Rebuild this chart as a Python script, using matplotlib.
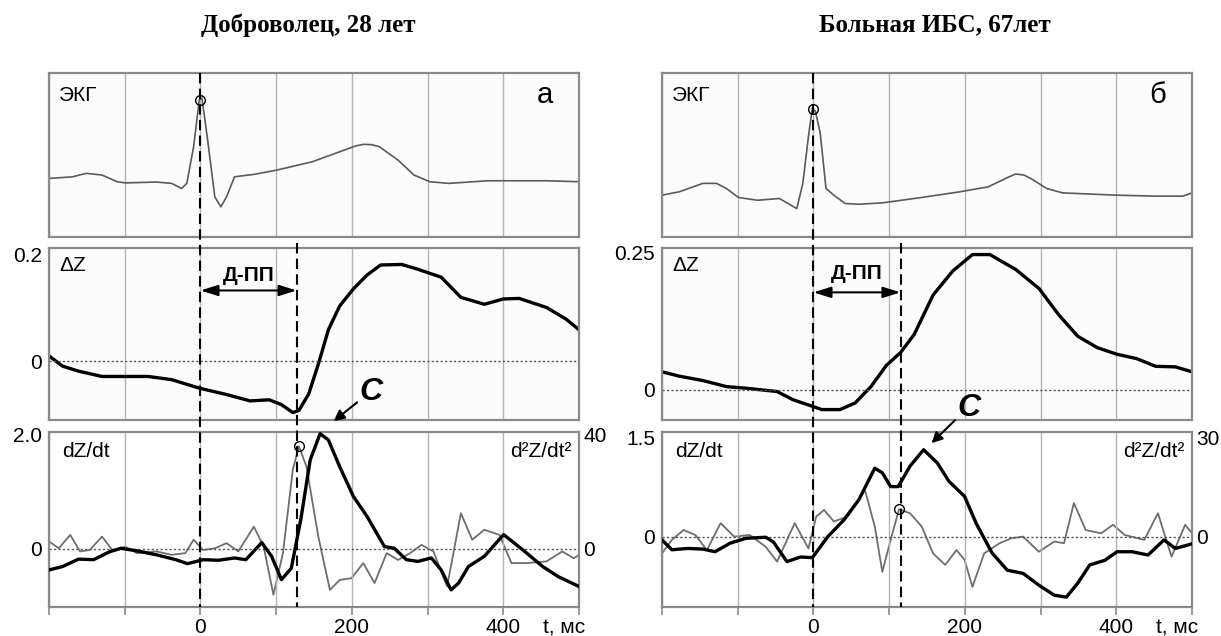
import matplotlib
matplotlib.use('Agg')
import matplotlib.pyplot as plt
from matplotlib.lines import Line2D
from matplotlib.patches import ArrowStyle
import matplotlib.transforms as mtransforms

plt.rcParams['font.family'] = ['Liberation Sans', 'DejaVu Sans']

# ---- data (t in ms) ----
titles = ['Доброволец, 28 лет', 'Больная ИБС, 67лет']
panel_letters = ['а', 'б']

ecg_a_t = [-200, -169, -151, -130, -110, -99, -58, -38, -25, -18, -9, -1.5, 2, 9, 19, 27, 34.5, 45,
           71, 101, 148, 184, 205, 215, 226, 236, 261, 282, 303, 328, 380, 457, 500]
ecg_a_v = [0.357, 0.367, 0.388, 0.378, 0.337, 0.33, 0.335, 0.327, 0.296, 0.327, 0.55, 0.837, 0.847, 0.61,
           0.245, 0.184, 0.245, 0.367, 0.382, 0.408, 0.459, 0.52, 0.555, 0.565, 0.563, 0.551, 0.469,
           0.378, 0.337, 0.327, 0.343, 0.343, 0.337]
ecg_b_t = [-200, -177, -146, -128, -115, -99, -74, -45, -32, -22, -14, -6.6, -1.4, 2.7, 9, 16.6, 27, 42,
           60, 91, 143, 194, 231, 255, 267, 278, 287, 308, 329, 349, 401, 452, 488, 500]
ecg_b_v = [0.255, 0.276, 0.327, 0.327, 0.296, 0.241, 0.224, 0.235, 0.2, 0.173, 0.327, 0.612, 0.786, 0.765,
           0.633, 0.296, 0.255, 0.204, 0.2, 0.208, 0.241, 0.276, 0.306, 0.36, 0.384, 0.378, 0.357, 0.296,
           0.269, 0.265, 0.255, 0.249, 0.249, 0.269]

dz_a_t = [-200, -182, -161, -130, -100, -69, -38, -1.5, 34.5, 65.5, 91, 107, 122, 130, 143, 156, 169,
          184, 202, 220, 238, 266, 287, 318, 344, 375, 400, 421, 457, 483, 500]
dz_a_v = [0.0096, -0.0096, -0.019, -0.029, -0.029, -0.029, -0.035, -0.051, -0.063, -0.075, -0.073,
          -0.082, -0.097, -0.093, -0.062, -0.0045, 0.059, 0.104, 0.136, 0.162, 0.181, 0.182, 0.173,
          0.158, 0.12, 0.107, 0.117, 0.118, 0.101, 0.079, 0.059]
dz_b_t = [-200, -177, -146, -115, -89, -48, -27, -1.4, 11, 35, 55, 76, 96.5, 115, 133, 158, 184, 210,
          233, 267, 298, 324, 349, 375, 401, 427, 452, 478, 500]
dz_b_v = [0.033, 0.025, 0.017, 0.006, 0.003, -0.003, -0.018, -0.03, -0.036, -0.036, -0.024, 0.006,
          0.045, 0.068, 0.101, 0.173, 0.217, 0.247, 0.247, 0.22, 0.185, 0.137, 0.098, 0.077, 0.065,
          0.057, 0.043, 0.042, 0.033]

d1_a_t = [-200, -182, -161, -141, -120, -105, -84, -58, -32.5, -17, 3.6, 24, 45, 60, 81, 94, 107, 120,
          132.5, 145, 158, 169, 184, 202, 220, 243, 256, 272, 287, 305, 318, 331, 341, 354, 375, 400.5,
          426, 452, 473, 500]
d1_a_v = [-0.37, -0.31, -0.18, -0.19, -0.05, 0.01, -0.035, -0.105, -0.19, -0.26, -0.19, -0.2, -0.16,
          -0.19, 0.11, -0.13, -0.54, -0.34, 0.51, 1.56, 2.02, 1.91, 1.44, 0.92, 0.57, 0.04, 0.01, -0.19,
          -0.22, -0.16, -0.37, -0.72, -0.6, -0.31, -0.13, 0.25, -0.02, -0.31, -0.49, -0.66]
d2_a_t = [-200, -187, -172, -159, -146, -130, -115, -99.5, -84, -58, -38, -20, -9, 3.6, 19, 34.5, 50,
          70.6, 83.5, 96.4, 109, 122, 130, 140, 155.7, 171, 184, 199.5, 215, 230, 246, 261, 277, 292,
          307.7, 325.8, 344, 359, 375, 395, 410.8, 431, 457, 478, 493, 500]
d2_a_v = [2.6, 0.2, 4.9, -0.9, -0.4, 4.3, -0.9, 0.8, -1.5, -0.9, -2.1, -1.5, 3.2, -0.4, 0.2, 2, -0.9,
          7.8, 0.8, -16.1, -1.5, 27.7, 36.0, 28.9, 4.3, -14.4, -10.9, -10.3, -5, -12, -1.5, -3.9, -1.5,
          1.4, -0.9, -13.2, 12.5, 3.2, 6.7, 4.9, -5, -5, -4.4, -0.9, -3.3, -2.1]

d1_b_t = [-200, -187, -166, -146, -130, -110, -89, -63, -53, -35, -17, -1.4, 19, 40, 60, 81, 91, 102,
          112, 127.5, 145.5, 163.6, 179, 199.7, 215, 236, 256, 277, 298, 318, 334, 349, 365, 385, 401,
          421, 442, 463, 478, 500]
d1_b_v = [-0.05, -0.2, -0.18, -0.19, -0.23, -0.1, -0.025, -0.01, -0.08, -0.38, -0.31, -0.32, 0.0,
          0.25, 0.56, 1.04, 0.97, 0.76, 0.76, 1.07, 1.32, 1.12, 0.84, 0.61, 0.2, -0.25, -0.51, -0.56,
          -0.74, -0.89, -0.92, -0.71, -0.43, -0.36, -0.23, -0.23, -0.28, -0.05, -0.18, -0.11]
d2_b_t = [-200, -187, -171.6, -156, -140.7, -122.6, -104.6, -84, -63, -48, -24.7, -6.6, 3.7, 14, 27, 45,
          68, 81, 91, 102, 113, 127.5, 143, 158, 174, 189, 199.7, 210, 225.5, 246, 261.6, 277, 297.7,
          318, 331, 344, 359.6, 380, 395.7, 411, 437, 455, 473, 491, 500]
d2_b_v = [-5.1, -1.0, 2.0, 0.5, -4.1, 4.1, 0, 0.5, -3.1, -7.6, 4.1, -3.6, 6.1, 8.1, 4.6, 6.1, 14.2,
          3.1, -10.7, -1.0, 8.3, 7.1, 3.1, -5.1, -8.6, -4.1, -7.1, -15.3, -5.1, -2.0, -0.5, 0, -4.6,
          -1.5, -2.0, 10.2, 2.0, 1.0, 3.6, 0.5, -1.0, 7.1, -6.1, 3.6, 1.0]

# markers and annotation positions
r_peak = [(0, 0.835), (0, 0.78)]
pp_time = [127, 115]
d2_circle = [(130, 36.0), (113, 8.3)]
dz_top_tick = [0.2, 0.25]
d1_top_tick = [2.0, 1.5]
d2_top_tick = [40, 30]
dz_ylim = [(-0.111, 0.213), (-0.055, 0.259)]
d1_ylim = [(-1.02, 2.05), (-1.07, 1.59)]
xticks = [-200, -100, 0, 100, 200, 300, 400, 500]
xtick_labels = ['', '', '0', '', '200', '', '400', '']
dpp_y = [(0.162, 0.133), (0.213, 0.178)]
c_label = [(225, 2.75), (205, 1.96)]
c_arrow = [((207, 2.57), (176, 2.24)), ((187, 1.77), (156, 1.42))]

ecg_t = [ecg_a_t, ecg_b_t]
ecg_v = [ecg_a_v, ecg_b_v]
dz_t = [dz_a_t, dz_b_t]
dz_v = [dz_a_v, dz_b_v]
d1_t = [d1_a_t, d1_b_t]
d1_v = [d1_a_v, d1_b_v]
d2_t = [d2_a_t, d2_b_t]
d2_v = [d2_a_v, d2_b_v]

W, H = 1221, 636
fig = plt.figure(figsize=(W / 100, H / 100), dpi=100)

frame_c = '#8a8a8a'
grid_c = '#b4b4b4'
fs = 15

def style_axis(ax):
    ax.set_xlim(-200, 500)
    ax.set_facecolor('#fcfcfc')
    for s in ax.spines.values():
        s.set_color(frame_c)
        s.set_linewidth(1.6)
    ax.set_xticks(xticks)
    ax.grid(axis='x', color=grid_c, lw=1.0)
    ax.set_axisbelow(True)
    ax.tick_params(axis='y', length=0, labelsize=fs, pad=5)
    ax.tick_params(axis='x', length=0, labelbottom=False)

lefts = [49, 662]
for g in range(2):
    x0 = lefts[g] / W
    w = 530 / W
    ax1 = fig.add_axes([x0, 1 - 237 / H, w, 164 / H])
    ax2 = fig.add_axes([x0, 1 - 420 / H, w, 172 / H])
    ax3 = fig.add_axes([x0, 1 - 607 / H, w, 175 / H])
    for ax in (ax1, ax2, ax3):
        style_axis(ax)

    # ECG
    ax1.plot(ecg_t[g], ecg_v[g], color='#5a5a5a', lw=1.2)
    ax1.plot(*r_peak[g], 'o', ms=7, mfc='none', mec='k', mew=1.0)
    ax1.set_ylim(0, 1)
    ax1.set_yticks([])
    ax1.text(0.018, 0.86, 'ЭКГ', transform=ax1.transAxes, fontsize=fs, va='center', ha='left')
    ax1.text(0.935, 0.865, panel_letters[g], transform=ax1.transAxes, fontsize=21, va='center', ha='center')

    # delta Z
    ax2.plot(dz_t[g], dz_v[g], color='k', lw=2.4)
    ax2.axhline(0, color='#555555', lw=1.0, ls=(0, (1.6, 1.6)))
    ax2.set_ylim(*dz_ylim[g])
    ax2.set_yticks([0, dz_top_tick[g]])
    ax2.set_yticklabels(['0', str(dz_top_tick[g])])
    ax2.text(0.02, 0.9, 'ΔZ', transform=ax2.transAxes, fontsize=fs, va='center', ha='left')
    ax2.annotate('', xy=(0, dpp_y[g][1]), xytext=(pp_time[g], dpp_y[g][1]),
                 arrowprops=dict(arrowstyle=ArrowStyle('<|-|>', head_length=0.7, head_width=0.22),
                                 color='k', lw=1.5, shrinkA=0, shrinkB=0, mutation_scale=15))
    ax2.text(pp_time[g] / 2, dpp_y[g][0], 'Д-ПП', fontsize=fs, fontweight='bold', ha='center', va='center')

    # dZ/dt and d2Z/dt2
    ax4 = ax3.twinx()
    ax4.plot(d2_t[g], d2_v[g], color='#6e6e6e', lw=1.3)
    ax4.plot(*d2_circle[g], 'o', ms=7, mfc='none', mec='k', mew=1.0)
    ax4.set_ylim(d1_ylim[g][0] * 20, d1_ylim[g][1] * 20)
    ax4.set_yticks([0, d2_top_tick[g]])
    ax4.tick_params(axis='y', length=0, labelsize=fs, pad=3)
    for s in ax4.spines.values():
        s.set_visible(False)
    ax3.plot(d1_t[g], d1_v[g], color='k', lw=2.4, zorder=5)
    ax3.axhline(0, color='#555555', lw=1.0, ls=(0, (1.6, 1.6)))
    ax3.set_ylim(*d1_ylim[g])
    ax3.set_yticks([0, d1_top_tick[g]])
    ax3.set_yticklabels(['0', '%.1f' % d1_top_tick[g]])
    ax3.text(0.025, 0.89, 'dZ/dt', transform=ax3.transAxes, fontsize=fs, va='center', ha='left')
    ax3.text(0.985, 0.89, 'd²Z/dt²', transform=ax3.transAxes, fontsize=fs, va='center', ha='right')
    ax3.tick_params(axis='x', length=6, direction='out', color=frame_c, width=1.2,
                    labelbottom=True, labelsize=fs, pad=2)
    ax3.set_xticklabels(xtick_labels)
    ax3.text(452, -0.12, 't, мс', transform=ax3.get_xaxis_transform(), fontsize=fs, ha='left', va='center')
    ax3.set_zorder(ax4.get_zorder() + 1)
    ax3.patch.set_visible(False)

    # C arrow
    ax3.annotate('', xy=c_arrow[g][1], xytext=c_arrow[g][0], annotation_clip=False,
                 arrowprops=dict(arrowstyle='-|>', color='k', lw=1.5, shrinkA=0, shrinkB=0, mutation_scale=16))
    ax3.text(c_label[g][0], c_label[g][1], 'C', fontsize=23, fontweight='bold', style='italic',
             ha='center', va='center', clip_on=False)

    # dashed vertical lines across panels
    tr = mtransforms.blended_transform_factory(ax3.transData, fig.transFigure)
    fig.add_artist(Line2D([0, 0], [1 - 73 / H, 1 - 607 / H], transform=tr, color='k', lw=1.5,
                          ls=(0, (5, 2.5)), zorder=10))
    fig.add_artist(Line2D([pp_time[g], pp_time[g]], [1 - 243 / H, 1 - 607 / H], transform=tr, color='k',
                          lw=1.5, ls=(0, (5, 2.5)), zorder=10))

title_x = [308, 935]
for g in range(2):
    fig.text(title_x[g] / W, 1 - 25 / H, titles[g], family='Liberation Serif', fontweight='bold',
             fontsize=18, ha='center', va='center')

fig.savefig('out.png', dpi=100)
